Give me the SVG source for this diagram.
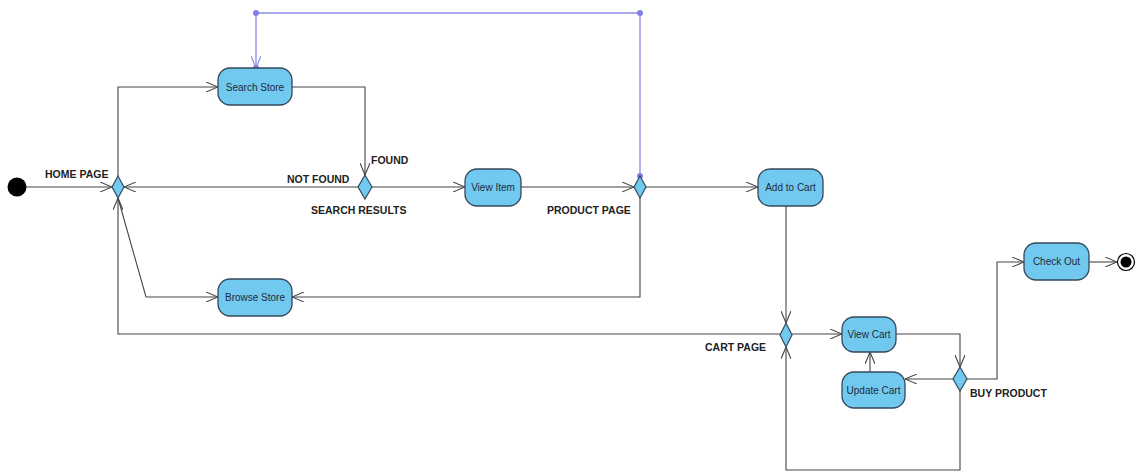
<svg xmlns="http://www.w3.org/2000/svg" width="1137" height="473" viewBox="0 0 1137 473">
  <style>
    .act { fill: #72c9f0; stroke: #34495c; stroke-width: 1.3; }
    .dec { fill: #72c9f0; stroke: #34495c; stroke-width: 1.2; }
    .atxt { font-family: "Liberation Sans", Arial, sans-serif; font-size: 10px; fill: #1d2b3a; text-anchor: middle; }
    .lbl { font-family: "Liberation Sans", Arial, sans-serif; font-size: 10.5px; font-weight: bold; fill: #222; }
    .flow { fill: none; stroke: #444; stroke-width: 1.1; marker-end: url(#arrow); }
    .link { fill: none; stroke: #8c8ce6; stroke-width: 1.3; marker-end: url(#arrowP); }
    .dot { fill: #8080e6; }
  </style>
  <defs>
    <marker id="arrow" viewBox="0 0 12 10" refX="12" refY="5" markerWidth="12" markerHeight="10" markerUnits="userSpaceOnUse" orient="auto">
      <path d="M0,0 L12,5 L0,10" fill="none" stroke="#444" stroke-width="1.1"/>
    </marker>
    <marker id="arrowP" viewBox="0 0 12 10" refX="12" refY="5" markerWidth="12" markerHeight="10" markerUnits="userSpaceOnUse" orient="auto">
      <path d="M0,0 L12,5 L0,10" fill="none" stroke="#8c8ce6" stroke-width="1.1"/>
    </marker>
  </defs>
  <rect width="1137" height="473" fill="#fff"/>

  <!-- control flows -->
  <g id="connectors">
    <path class="flow" d="M26,187 H112"/>
    <path class="flow" d="M118,176 V87 H218"/>
    <path class="flow" d="M292,87 H365 V175"/>
    <path class="flow" d="M358,187 H124"/>
    <path class="flow" d="M372,187 H465"/>
    <path class="flow" d="M521,187 H634"/>
    <path class="flow" d="M646,187 H758"/>
    <path class="flow" d="M640,198 V297 H292"/>
    <path class="flow" d="M118,198 L146,297 H218"/>
    <path class="flow" d="M780,334 H118 V198"/>
    <path class="flow" d="M786,206 V323"/>
    <path class="flow" d="M792,334 H842"/>
    <path class="flow" d="M895,334 H960 V367"/>
    <path class="flow" d="M953,379 H905"/>
    <path class="flow" d="M870,372 V352"/>
    <path class="flow" d="M967,379 H997 V262 H1024"/>
    <path class="flow" d="M960,391 V470 H786 V347"/>
    <path class="flow" d="M1089,262 H1117"/>
    <!-- loop from product page back to search -->
    <path class="link" d="M640,176 V13 H256 V68"/>
    <circle class="dot" cx="640" cy="176" r="3"/>
    <circle class="dot" cx="640" cy="13" r="3"/>
    <circle class="dot" cx="256" cy="13" r="3"/>
    <circle class="dot" cx="256" cy="68" r="3"/>
  </g>

  <g id="initial">
    <circle cx="17" cy="187" r="9.5" fill="#000"/>
  </g>

  <g id="home-page">
    <polygon class="dec" points="118,176 124,187 118,198 112,187"/>
    <text class="lbl" x="45" y="178">HOME PAGE</text>
  </g>

  <g id="search-store">
    <rect class="act" x="218" y="68" width="74" height="37" rx="12"/>
    <text class="atxt" x="255" y="90.5">Search Store</text>
  </g>

  <g id="search-results">
    <polygon class="dec" points="365,175 372,187 365,199 358,187"/>
    <text class="lbl" x="287" y="183">NOT FOUND</text>
    <text class="lbl" x="371" y="164">FOUND</text>
    <text class="lbl" x="311" y="214">SEARCH RESULTS</text>
  </g>

  <g id="view-item">
    <rect class="act" x="465" y="169" width="56" height="37" rx="12"/>
    <text class="atxt" x="493" y="190.5">View Item</text>
  </g>

  <g id="product-page">
    <polygon class="dec" points="640,176 646,187 640,198 634,187"/>
    <text class="lbl" x="547" y="214">PRODUCT PAGE</text>
  </g>

  <g id="add-to-cart">
    <rect class="act" x="758" y="169" width="65" height="37" rx="12"/>
    <text class="atxt" x="790.5" y="190.5">Add to Cart</text>
  </g>

  <g id="browse-store">
    <rect class="act" x="218" y="279" width="74" height="37" rx="12"/>
    <text class="atxt" x="255" y="300.5">Browse Store</text>
  </g>

  <g id="cart-page">
    <polygon class="dec" points="786,323 792,335 786,347 780,335"/>
    <text class="lbl" x="705" y="351">CART PAGE</text>
  </g>

  <g id="view-cart">
    <rect class="act" x="842" y="317" width="54" height="35" rx="12"/>
    <text class="atxt" x="869" y="337.5">View Cart</text>
  </g>

  <g id="update-cart">
    <rect class="act" x="842" y="372" width="63" height="36" rx="12"/>
    <text class="atxt" x="873.5" y="393.5">Update Cart</text>
  </g>

  <g id="buy-product">
    <polygon class="dec" points="960,367 967,379 960,391 953,379"/>
    <text class="lbl" x="970" y="397">BUY PRODUCT</text>
  </g>

  <g id="check-out">
    <rect class="act" x="1024" y="243" width="65" height="37" rx="12"/>
    <text class="atxt" x="1056.5" y="265">Check Out</text>
  </g>

  <g id="final">
    <circle cx="1126" cy="262" r="8.5" fill="#fff" stroke="#000" stroke-width="1.2"/>
    <circle cx="1126" cy="262" r="5.5" fill="#000"/>
  </g>
</svg>
